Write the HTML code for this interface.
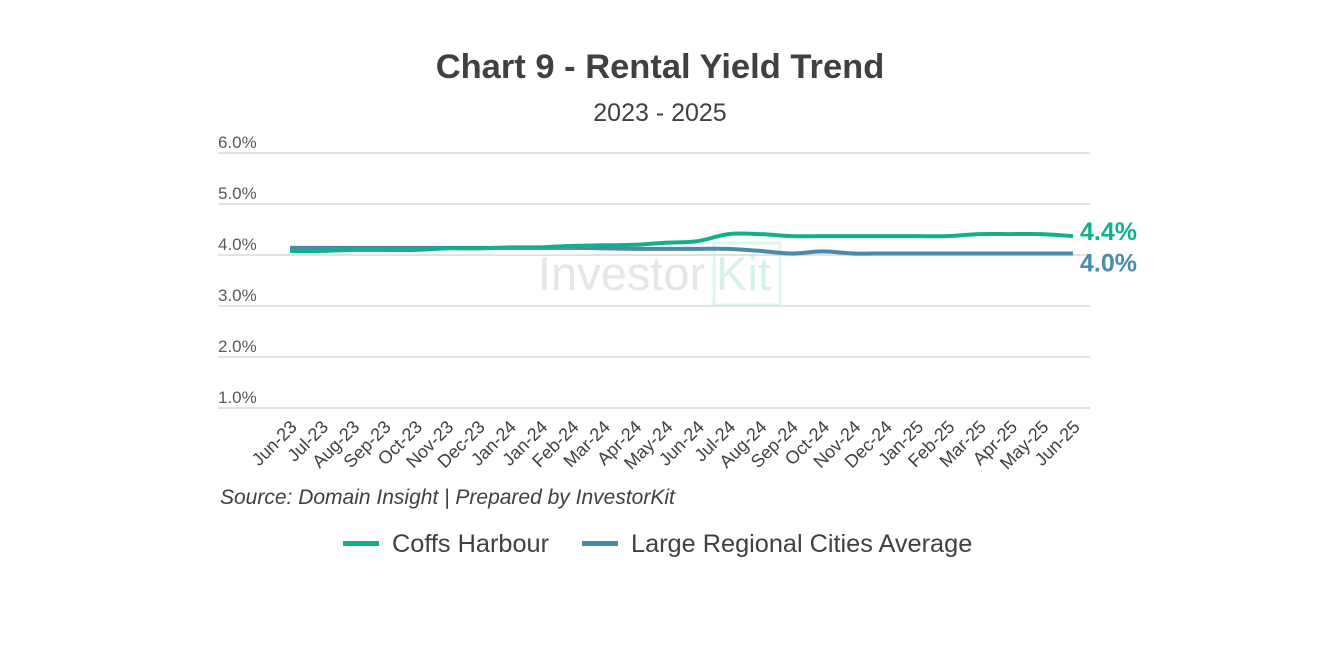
<!DOCTYPE html>
<html><head><meta charset="utf-8"><style>
body{margin:0;background:#fff;width:1320px;height:640px;overflow:hidden;font-family:"Liberation Sans",sans-serif}
</style></head><body>
<svg width="1320" height="640" id="c" font-family="Liberation Sans, sans-serif">
<text x="660" y="78" text-anchor="middle" font-size="34.5" font-weight="bold" fill="#404040">Chart 9 - Rental Yield Trend</text>
<text x="660" y="121" text-anchor="middle" font-size="25" fill="#404040">2023 - 2025</text>
<g id="grid"></g>
<g opacity="0.5">
<text x="538" y="290" font-size="47" fill="#cfcfcf">Investor</text>
<rect x="714" y="243" width="66" height="62" fill="none" stroke="#bfeee0" stroke-width="3"/>
<text x="716" y="290" font-size="47" fill="#a8e6d4">Kit</text>
</g>
<g id="marks"></g>
<g id="xl"></g>
<text x="220" y="504" font-size="21" font-style="italic" fill="#404040">Source: Domain Insight | Prepared by InvestorKit</text>
<g>
<g><rect x="343" y="541" width="36" height="5" fill="#12b08a"/><text x="392" y="552" font-size="25.3" fill="#404040">Coffs Harbour</text></g>
<g><rect x="582" y="541" width="36" height="5" fill="#4a8aaa"/><text x="631" y="552" font-size="25.3" fill="#404040">Large Regional Cities Average</text></g>
</g>
</svg>
<script>
const categories=["Jun-23","Jul-23","Aug-23","Sep-23","Oct-23","Nov-23","Dec-23","Jan-24","Jan-24","Feb-24","Mar-24","Apr-24","May-24","Jun-24","Jul-24","Aug-24","Sep-24","Oct-24","Nov-24","Dec-24","Jan-25","Feb-25","Mar-25","Apr-25","May-25","Jun-25"];
const coffs=[4.08,4.08,4.1,4.1,4.1,4.13,4.13,4.15,4.15,4.18,4.19,4.2,4.24,4.27,4.41,4.41,4.37,4.37,4.37,4.37,4.37,4.37,4.41,4.41,4.41,4.37];
const regional=[4.14,4.14,4.14,4.14,4.14,4.14,4.14,4.14,4.14,4.14,4.13,4.12,4.12,4.12,4.12,4.08,4.03,4.07,4.03,4.03,4.03,4.03,4.03,4.03,4.03,4.03];
const yTicks=[1,2,3,4,5,6];
const NS="http://www.w3.org/2000/svg";
const x0=290,x1=1073,yb=408,yt=153;
const X=i=>x0+i*(x1-x0)/(categories.length-1);
const Y=v=>yb-(v-1)*(yb-yt)/5;
const grid=document.getElementById('grid'),marks=document.getElementById('marks'),xl=document.getElementById('xl');
function mk(t,a,p){const e=document.createElementNS(NS,t);for(const k in a)e.setAttribute(k,a[k]);p.appendChild(e);return e;}
yTicks.forEach(v=>{
 const l=mk('line',{x1:218,x2:1090,y1:Y(v),y2:Y(v),stroke:'#d9d9d9','stroke-width':1.5},grid);
 
 
 const t=mk('text',{x:218,y:Y(v)-5,'font-size':17,fill:'#595959'},grid);
 t.textContent=v.toFixed(1)+'%';
 
 
});
categories.forEach((c,i)=>{
 const t=mk('text',{x:0,y:0,'font-size':18,fill:'#404040','text-anchor':'end',transform:`translate(${X(i)+8},${428}) rotate(-45)`},xl);
 t.textContent=c;
 
 
});
function smooth(vals){
 const P=vals.map((v,i)=>[X(i),Y(v)]);
 let d='M'+P[0][0]+','+P[0][1];
 for(let i=0;i<P.length-1;i++){
  const p0=P[Math.max(0,i-1)],p1=P[i],p2=P[i+1],p3=P[Math.min(P.length-1,i+2)];
  const c1=[p1[0]+(p2[0]-p0[0])/6,p1[1]+(p2[1]-p0[1])/6],c2=[p2[0]-(p3[0]-p1[0])/6,p2[1]-(p3[1]-p1[1])/6];
  d+=` C${c1[0]},${c1[1]} ${c2[0]},${c2[1]} ${p2[0]},${p2[1]}`;
 }
 return d;
}
function line(vals,col,name,dy){
 const p=mk('path',{d:smooth(vals),fill:'none',stroke:col,'stroke-width':4,'stroke-linejoin':'round'},marks);
 
 
 const t=mk('text',{x:1080,y:Y(vals[vals.length-1])+dy,'font-size':25,'font-weight':'bold',fill:col},marks);
 t.textContent=vals[vals.length-1].toFixed(1)+'%';
 
 
}
line(regional,'#4a8aaa','regional-average-line',18);
line(coffs,'#12b08a','coffs-harbour-line',4);
</script>
</body></html>
